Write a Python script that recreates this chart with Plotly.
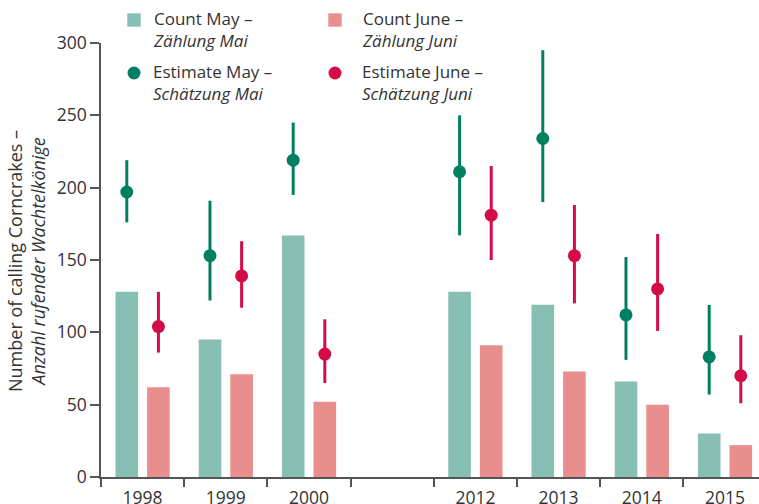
import plotly.graph_objects as go

# ---- data ----
years = ["1998", "1999", "2000", "2012", "2013", "2014", "2015"]
count_may = [128, 95, 167, 128, 119, 66, 30]
count_june = [62, 71, 52, 91, 73, 50, 22]
est_may = [197, 153, 219, 211, 234, 112, 83]
est_may_hi = [219, 191, 245, 250, 295, 152, 119]
est_may_lo = [176, 122, 195, 167, 190, 81, 57]
est_june = [104, 139, 85, 181, 153, 130, 70]
est_june_hi = [128, 163, 109, 215, 188, 168, 98]
est_june_lo = [86, 117, 65, 150, 120, 101, 51]

# slot positions (an empty slot separates 2000 and 2012)
pos = [i if i < 3 else i + 1 for i in range(len(years))]
n_slots = 8

C_MAY_BAR = "#88bfb4"
C_JUNE_BAR = "#e88e8c"
C_MAY_EST = "#007f62"
C_JUNE_EST = "#d30c48"
TXT = "#333333"
AX = "#555555"
FONT = "Open Sans"

BW = 0.272
SHIFT = 0.19

fig = go.Figure()
fig.add_trace(go.Bar(x=pos, y=count_may, width=BW, offset=-SHIFT - BW / 2,
                     marker=dict(color=C_MAY_BAR, line=dict(width=0)), showlegend=False))
fig.add_trace(go.Bar(x=pos, y=count_june, width=BW, offset=SHIFT - BW / 2,
                     marker=dict(color=C_JUNE_BAR, line=dict(width=0)), showlegend=False))

fig.add_trace(go.Scatter(
    x=[p - SHIFT for p in pos], y=est_may, mode="markers",
    marker=dict(color=C_MAY_EST, size=13),
    error_y=dict(type="data", symmetric=False,
                 array=[h - v for h, v in zip(est_may_hi, est_may)],
                 arrayminus=[v - l for v, l in zip(est_may, est_may_lo)],
                 color=C_MAY_EST, thickness=3, width=0),
    showlegend=False, cliponaxis=False))
fig.add_trace(go.Scatter(
    x=[p + SHIFT for p in pos], y=est_june, mode="markers",
    marker=dict(color=C_JUNE_EST, size=13),
    error_y=dict(type="data", symmetric=False,
                 array=[h - v for h, v in zip(est_june_hi, est_june)],
                 arrayminus=[v - l for v, l in zip(est_june, est_june_lo)],
                 color=C_JUNE_EST, thickness=3, width=0),
    showlegend=False, cliponaxis=False))

W, H = 759, 504
L, R, T, B = 101, 0, 43, 27
pw, ph = W - L - R, H - T - B
slot_px = 83.2
x_max = pw / slot_px - 0.5

def px(x):
    return (x - L) / pw

def py(y):
    return (H - B - y) / ph

boundaries = [b - 0.5 for b in range(n_slots + 1)]

fig.update_layout(
    width=W, height=H,
    margin=dict(l=L, r=R, t=T, b=B, pad=0, autoexpand=False),
    plot_bgcolor="white", paper_bgcolor="white",
    font=dict(family=FONT, size=17, color=TXT),
    showlegend=False,
    xaxis=dict(range=[-0.5, x_max], showgrid=False, zeroline=False, automargin=False,
               showline=True, linecolor=AX, linewidth=1.5,
               tickmode="array", tickvals=pos, ticktext=years,
               ticks="outside", ticklen=4, tickcolor="rgba(0,0,0,0)",
               tickfont=dict(size=17.5, color=TXT),
               minor=dict(tickmode="array", tickvals=boundaries, ticks="outside",
                          ticklen=8, tickwidth=1.5, tickcolor=AX, showgrid=False)),
    yaxis=dict(range=[0, 300], showgrid=False, zeroline=False, automargin=False,
               showline=True, linecolor=AX, linewidth=1.5,
               tickmode="array", tickvals=[0, 50, 100, 150, 200, 250, 300],
               ticks="outside", ticklen=9, tickwidth=1.5, tickcolor=AX,
               tickfont=dict(size=17.5, color=TXT)),
)

# y-axis title
fig.add_annotation(text="Number of calling Corncrakes –<br><i>Anzahl rufender Wachtelkönige</i>",
                   xref="paper", yref="paper", x=px(26), y=py(261),
                   xanchor="center", yanchor="middle", textangle=-90,
                   showarrow=False, font=dict(size=18, color=TXT))

# legend (manual)
legend_items = [
    (134, 20, "square", C_MAY_BAR, 151, 30, "Count May –<br><i>Zählung Mai</i>"),
    (335, 20, "square", C_JUNE_BAR, 360, 30, "Count June –<br><i>Zählung Juni</i>"),
    (134, 73, "circle", C_MAY_EST, 151, 82, "Estimate May –<br><i>Schätzung Mai</i>"),
    (335, 73, "circle", C_JUNE_EST, 360, 82, "Estimate June –<br><i>Schätzung Juni</i>"),
]
for sx, sy, kind, col, tx, ty, label in legend_items:
    r = 6.5 if kind == "circle" else 6.7
    fig.add_shape(type="rect" if kind == "square" else "circle",
                  xref="paper", yref="paper",
                  xsizemode="pixel", ysizemode="pixel",
                  xanchor=px(sx), yanchor=py(sy),
                  x0=-r, x1=r, y0=-r, y1=r,
                  fillcolor=col, line=dict(width=0))
    fig.add_annotation(text=label, xref="paper", yref="paper",
                       x=px(tx), y=py(ty), xanchor="left", yanchor="middle",
                       align="left", showarrow=False,
                       font=dict(size=17, color=TXT))

fig.write_html("out.html", config={"displayModeBar": False},
               post_script="document.body.style.margin='0';")
